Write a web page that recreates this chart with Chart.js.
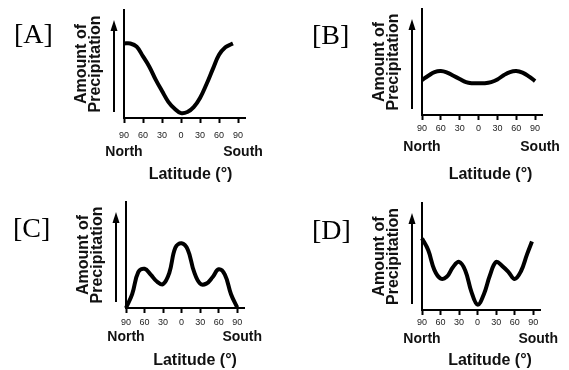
<!DOCTYPE html>
<html>
<head>
<meta charset="utf-8">
<script src="https://cdn.jsdelivr.net/npm/chart.js@4.4.1/dist/chart.umd.min.js"></script>
<style>
  body { margin: 0; background: #fff; }
  #wrap { position: relative; width: 569px; height: 370px; overflow: hidden; }
  canvas { position: absolute; }
  .tag { position: absolute; font-family: "Liberation Serif", "Times New Roman", serif; font-size: 28px; line-height: 28px; color: #000; }
</style>
</head>
<body>
<div id="wrap">
  <canvas id="chartA" width="285" height="185" style="left:0;top:0"></canvas>
  <canvas id="chartB" width="285" height="185" style="left:285px;top:0"></canvas>
  <canvas id="chartC" width="285" height="185" style="left:0;top:185px"></canvas>
  <canvas id="chartD" width="285" height="185" style="left:285px;top:185px"></canvas>
  <div class="tag" style="left:14px;top:20px">[A]</div>
  <div class="tag" style="left:312px;top:21px">[B]</div>
  <div class="tag" style="left:13px;top:214px">[C]</div>
  <div class="tag" style="left:312px;top:216px">[D]</div>
</div>
<script>
// latitude: north positive, south negative
const latTicks = [90, 60, 30, 0, -30, -60, -90];

const latA = [90, 80, 70, 60, 50, 40, 30, 20, 10, 0, -10, -20, -30, -40, -50, -60, -70, -80, -82];
const precipA = [69, 69, 66, 57, 47.5, 35.5, 25, 15, 8.5, 4.5, 5.5, 10, 18.5, 31, 45, 58.5, 65.5, 68.5, 69];

const latB = [90, 80, 70, 60, 50, 40, 30, 20, 10, 0, -10, -20, -30, -40, -50, -60, -70, -80, -90];
const precipB = [33, 37, 40.5, 41.5, 40, 37, 34, 31, 30, 30, 30, 31, 33.5, 37.5, 40.5, 41.5, 40, 36.5, 32];

const latC = [90, 80, 70, 60, 50, 40, 30, 20, 10, 0, -10, -20, -30, -40, -50, -60, -70, -80, -90];
const precipC = [0, 13, 34, 37, 31.5, 25, 22.5, 33, 57, 61, 55, 34.5, 23, 23, 29, 36.5, 31.5, 13, 0.5];

const latD = [90, 80, 70, 60, 50, 40, 30, 20, 10, 0, -10, -20, -30, -40, -50, -60, -70, -80, -88];
const precipD = [67, 56, 37.5, 29.5, 31, 40, 45, 37, 17, 5, 14.5, 32.5, 45, 41, 35.5, 29, 36, 52, 64];

const yTitle = ['Amount of', 'Precipitation'];
const sans = '"Liberation Sans", Arial, Helvetica, sans-serif';
const W = 285, H = 185, Y_AXIS_W = 50, X_AXIS_H = 30;

const panels = [
  {id: 'chartA', lat: latA, values: precipA, area: {left: 124, top: 10, right: 245, bottom: 118}, tickPad: 7.5, northDy: 34.5, titleDx: 6, titleDy: 56.5},
  {id: 'chartB', lat: latB, values: precipB, area: {left: 137, top: 9, right: 257, bottom: 115}, tickPad: 3.5, northDy: 32.5, titleDx: 8.5, titleDy: 59.5},
  {id: 'chartC', lat: latC, values: precipC, area: {left: 126, top: 17, right: 244, bottom: 123}, tickPad: 4, northDy: 29, titleDx: 10, titleDy: 52.5},
  {id: 'chartD', lat: latD, values: precipD, area: {left: 137, top: 18, right: 255, bottom: 125}, tickPad: 2, northDy: 29, titleDx: 9, titleDy: 50.5}
];

// up-arrow beside the y axis, plus North / South / Latitude texts
const decorations = {
  id: 'decorations',
  afterDraw(chart, args, opts) {
    const ctx = chart.ctx;
    const a = chart.chartArea;
    const x = chart.scales.x;
    ctx.save();
    const ax = a.left - 10;
    ctx.strokeStyle = '#000';
    ctx.fillStyle = '#000';
    ctx.lineWidth = 2;
    ctx.beginPath();
    ctx.moveTo(ax, a.bottom - 6);
    ctx.lineTo(ax, a.top + 18);
    ctx.stroke();
    ctx.beginPath();
    ctx.moveTo(ax, a.top + 10);
    ctx.lineTo(ax - 3.5, a.top + 21);
    ctx.lineTo(ax + 3.5, a.top + 21);
    ctx.closePath();
    ctx.fill();

    ctx.fillStyle = '#111';
    ctx.textAlign = 'center';
    ctx.textBaseline = 'middle';
    ctx.font = 'bold 14px ' + sans;
    ctx.fillText('North', x.getPixelForValue(90), a.bottom + opts.northDy);
    ctx.fillText('South', x.getPixelForValue(-90) + 5, a.bottom + opts.northDy);
    ctx.font = 'bold 16px ' + sans;
    ctx.fillText('Latitude (°)', (a.left + a.right) / 2 + opts.titleDx, a.bottom + opts.titleDy);
    ctx.restore();
  }
};

function makeChart(p) {
  return new Chart(document.getElementById(p.id), {
    type: 'line',
    data: {
      datasets: [{
        data: p.lat.map((v, i) => ({x: v, y: p.values[i]})),
        borderColor: '#000',
        borderWidth: 4,
        pointRadius: 0,
        tension: 0.4,
        fill: false,
        clip: false
      }]
    },
    options: {
      responsive: false,
      animation: false,
      events: [],
      layout: {
        padding: {
          left: p.area.left - Y_AXIS_W,
          top: p.area.top,
          right: W - p.area.right,
          bottom: H - p.area.bottom - X_AXIS_H
        }
      },
      plugins: {
        legend: {display: false},
        tooltip: {enabled: false},
        decorations: {northDy: p.northDy, titleDx: p.titleDx, titleDy: p.titleDy}
      },
      scales: {
        x: {
          type: 'linear',
          reverse: true,
          min: -101,
          max: 90,
          afterFit: s => { s.height = X_AXIS_H; },
          afterBuildTicks: s => { s.ticks = latTicks.map(v => ({value: v})); },
          ticks: {
            autoSkip: false,
            maxRotation: 0,
            padding: p.tickPad,
            color: '#222',
            font: {family: sans, size: 9},
            callback: v => Math.abs(v)
          },
          grid: {drawOnChartArea: false, drawTicks: true, tickLength: 5, tickWidth: 2, tickColor: '#000'},
          border: {display: true, color: '#000', width: 2}
        },
        y: {
          min: 0,
          max: 100,
          afterFit: s => { s.width = Y_AXIS_W; },
          ticks: {display: false},
          grid: {display: false},
          border: {display: true, color: '#000', width: 2},
          title: {
            display: true,
            text: yTitle,
            color: '#111',
            font: {family: sans, size: 16, weight: 'bold', lineHeight: '14px'},
            padding: {top: 1, bottom: 0}
          }
        }
      }
    },
    plugins: [decorations]
  });
}

panels.forEach(makeChart);
</script>
</body>
</html>
